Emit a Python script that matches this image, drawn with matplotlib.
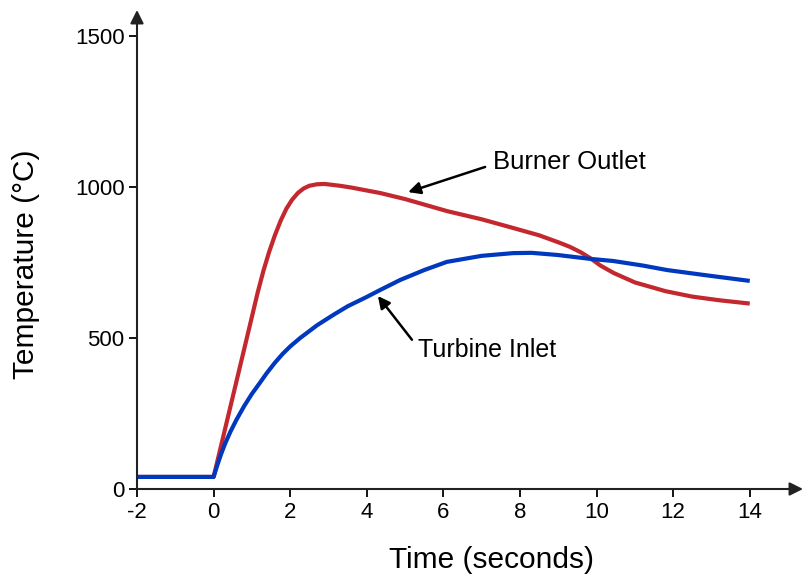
import numpy as np
import matplotlib
matplotlib.use("Agg")
import matplotlib.pyplot as plt

plt.rcParams['font.family'] = ['Liberation Sans', 'DejaVu Sans']

# Burner outlet temperature
burner_t = [-2, 0, 0.5, 1.0, 1.15, 1.3, 1.45, 1.6, 1.75, 1.9, 2.05, 2.2, 2.35, 2.5,
            2.7, 2.9, 3.3, 3.6, 4.35, 5.0, 6.1, 7.0, 7.8, 8.5, 9.0, 9.3, 9.6, 9.85,
            10.1, 10.45, 11.0, 11.8, 12.5, 13.2, 14.0]
burner_T = [40, 40, 305, 570, 650, 722, 785, 840, 888, 928, 958, 980, 995, 1004,
            1009, 1010, 1004, 998, 980, 960, 920, 893, 865, 840, 817, 802, 783, 763,
            740, 715, 684, 655, 637, 625, 614]

# Turbine inlet temperature
turbine_t = [-2, 0, 0.1, 0.2, 0.3, 0.44, 0.6, 0.8, 1.0, 1.2, 1.39, 1.6, 1.8, 2.0,
             2.26, 2.7, 3.12, 3.5, 4.0, 4.35, 4.87, 5.5, 6.09, 7.0, 7.82, 8.3,
             8.97, 9.83, 10.43, 11.2, 11.84, 12.9, 14.0]
turbine_T = [40, 40, 80, 117, 150, 190, 230, 275, 315, 350, 384, 418, 447, 472,
             500, 542, 576, 605, 636, 659, 692, 725, 752, 772, 781, 782,
             775, 762, 755, 740, 725, 707, 689]

xticks = [-2, 0, 2, 4, 6, 8, 10, 12, 14]
yticks = [0, 500, 1000, 1500]

fig = plt.figure(figsize=(8.04, 5.78), dpi=100)
ax = fig.add_axes([137 / 804, 89 / 578, 666 / 804, 479 / 578])

ax.plot(burner_t, burner_T, color='#c4282f', lw=3, solid_joinstyle='round', solid_capstyle='butt')
ax.plot(turbine_t, turbine_T, color='#0038be', lw=3, solid_joinstyle='round', solid_capstyle='butt')

ax.set_xlim(-2, 15.39)
ax.set_ylim(0, 1586)
ax.set_xticks(xticks)
ax.set_xticklabels([str(v) for v in xticks])
ax.set_yticks(yticks)
ax.tick_params(axis='both', labelsize=16, length=6, width=1.3, direction='out', pad=3)

for s in ax.spines.values():
    s.set_visible(False)

# axis lines with arrow heads
ax.annotate('', xy=(1, 0), xytext=(0, 0), xycoords='axes fraction',
            arrowprops=dict(arrowstyle='-|>', color='#222222', lw=1.5,
                            mutation_scale=20, shrinkA=0, shrinkB=0))
ax.annotate('', xy=(0, 1), xytext=(0, 0), xycoords='axes fraction',
            arrowprops=dict(arrowstyle='-|>', color='#222222', lw=1.5,
                            mutation_scale=20, shrinkA=0, shrinkB=0))

ax.set_xlabel('Time (seconds)', fontsize=21.5)
ax.set_ylabel('Temperature (°C)', fontsize=21.5)
ax.xaxis.set_label_coords(0.533, -0.12)
ax.yaxis.set_label_coords(-0.145, 0.47)

# labels with arrows
ax.annotate('Burner Outlet', xy=(5.08, 983), xytext=(7.3, 1083),
            fontsize=18.5, va='center', ha='left',
            arrowprops=dict(arrowstyle='-|>', color='black', lw=1.8, relpos=(0, 0.4),
                            mutation_scale=18, shrinkA=4, shrinkB=0))
ax.annotate('Turbine Inlet', xy=(4.29, 639), xytext=(5.34, 460),
            fontsize=18, va='center', ha='left',
            arrowprops=dict(arrowstyle='-|>', color='black', lw=1.8, relpos=(0, 0.6),
                            mutation_scale=18, shrinkA=4, shrinkB=0))

fig.savefig('out.png', dpi=100)
